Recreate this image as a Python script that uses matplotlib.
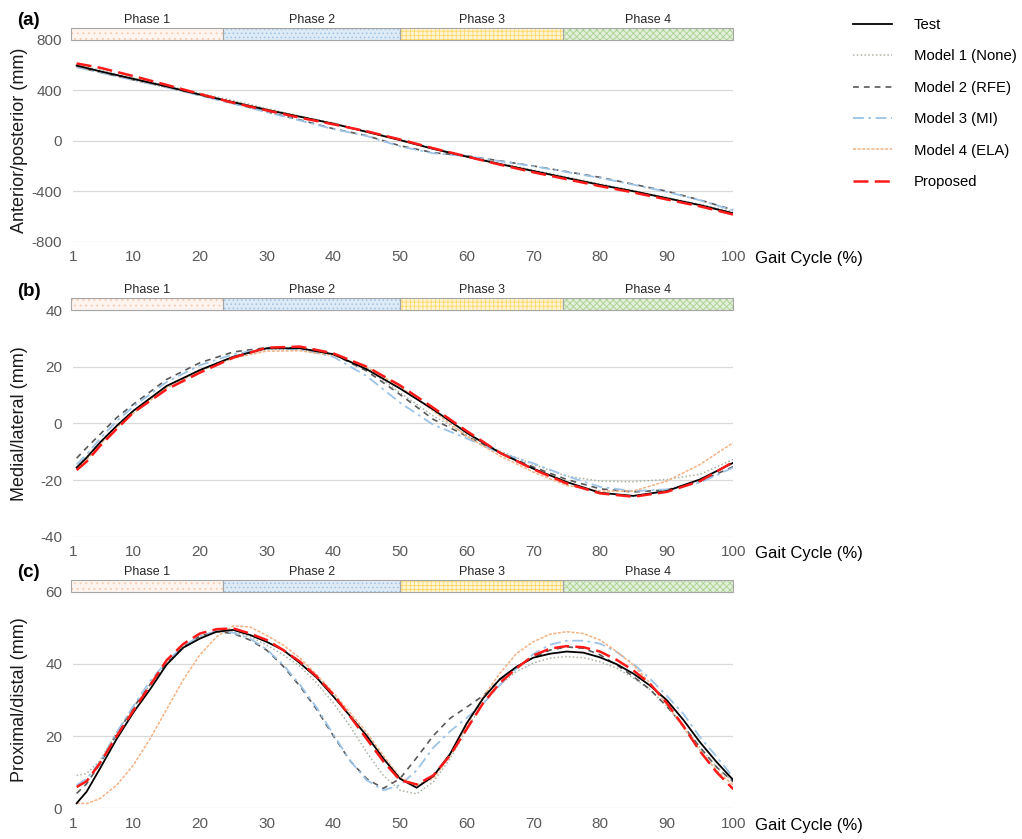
import matplotlib
matplotlib.use("Agg")
import matplotlib.pyplot as plt
from matplotlib.patches import Rectangle
from matplotlib.transforms import blended_transform_factory

plt.rcParams['font.family'] = ['Liberation Sans', 'DejaVu Sans']
plt.rcParams['hatch.linewidth'] = 0.6
plt.rcParams['axes.unicode_minus'] = False

# ---------------- data ----------------
series_names = ["Test", "Model 1 (None)", "Model 2 (RFE)", "Model 3 (MI)", "Model 4 (ELA)", "Proposed"]
phase_names = ["Phase 1", "Phase 2", "Phase 3", "Phase 4"]
phase_edges = [0.7, 23.5, 50, 74.5, 100]
x_ticks = [1, 10, 20, 30, 40, 50, 60, 70, 80, 90, 100]

# (a) anterior/posterior
gait_a = [1.5, 5, 10, 15, 20, 25, 30, 35, 40, 45, 50, 55, 60, 65, 70, 75, 80, 85, 90, 95, 100]
a_test = [595, 550, 490, 430, 365, 305, 245, 190, 135, 70, 5, -65, -126, -185, -240, -295, -350, -400, -455, -510, -575]
a_m1 = [605, 560, 497, 437, 375, 318, 255, 195, 140, 75, 10, -60, -120, -178, -232, -288, -342, -395, -450, -505, -562]
a_m2 = [585, 542, 482, 424, 360, 295, 230, 165, 95, 40, -40, -95, -120, -160, -200, -245, -290, -345, -400, -470, -548]
a_m3 = [582, 540, 480, 422, 358, 293, 226, 160, 92, 38, -45, -100, -122, -162, -202, -248, -295, -348, -405, -472, -552]
a_m4 = [590, 548, 488, 428, 366, 306, 247, 190, 133, 70, 3, -65, -127, -187, -243, -298, -352, -404, -458, -513, -578]
a_prop = [612, 578, 512, 442, 370, 300, 240, 182, 130, 75, 10, -60, -125, -190, -250, -305, -360, -410, -465, -520, -585]

# (b) medial/lateral
gait_b = [1.5, 3, 5, 7.5, 10, 15, 20, 25, 30, 35, 40, 45, 50, 55, 60, 65, 70, 75, 80, 85, 90, 95, 100]
b_test = [-15.6, -12.1, -6.8, -0.9, 4.4, 13.2, 18.8, 23.5, 26.5, 26.5, 24.4, 19.1, 12.3, 4.9, -3.3, -10.4, -16.0, -20.7, -24.5, -25.6, -23.9, -19.8, -13.9]
b_m1 = [-15.5, -12.0, -6.5, -0.8, 4.5, 13.0, 19.0, 23.5, 26.0, 26.3, 24.3, 19.5, 10.8, 2.6, -3.9, -9.8, -14.5, -18.6, -20.4, -20.6, -19.8, -18.0, -12.7]
b_m2 = [-12.3, -8.6, -3.9, 2.0, 6.7, 15.5, 21.4, 25.2, 26.7, 26.7, 24.4, 18.5, 10.2, 1.4, -4.5, -10.4, -15.4, -19.8, -23.1, -24.2, -23.5, -20.4, -15.3]
b_m3 = [-14.5, -11.0, -5.4, 0.8, 5.9, 14.6, 20.5, 24.4, 26.4, 26.1, 23.5, 16.7, 7.3, -0.5, -5.3, -10.4, -14.1, -18.6, -22.4, -23.9, -23.3, -20.9, -15.6]
b_m4 = [-16.0, -13.0, -7.5, -1.5, 3.5, 12.5, 18.5, 23.0, 25.5, 25.6, 24.0, 19.8, 13.0, 4.4, -4.5, -11.5, -17.2, -21.9, -23.9, -23.9, -20.4, -14.5, -6.8]
b_prop = [-16.5, -13.5, -8.0, -2.0, 3.8, 12.0, 17.9, 23.2, 26.7, 27.1, 24.7, 20.0, 13.4, 5.5, -2.7, -10.4, -16.2, -21.2, -24.7, -25.9, -24.2, -20.4, -13.6]

# (c) proximal/distal
gait_c = [1.5, 3, 5, 7.5, 10, 12.5, 15, 17.5, 20, 22.5, 25, 27.5, 30, 32.5, 35, 37.5, 40, 42.5, 45, 47.5,
          50, 52.5, 55, 57.5, 60, 62.5, 65, 67.5, 70, 72.5, 75, 77.5, 80, 82.5, 85, 87.5, 90, 92.5, 95, 97.5, 100]
c_test = [1.4, 4.6, 11.0, 19.2, 26.5, 32.9, 39.8, 44.5, 47.0, 48.9, 49.4, 48.0, 46.1, 43.8, 40.2, 36.2, 31.0, 25.6, 20.1, 13.8,
          8.2, 5.7, 8.9, 15.0, 23.5, 30.5, 35.8, 39.2, 41.7, 42.8, 43.4, 43.1, 41.8, 39.9, 37.3, 34.0, 30.0, 24.5, 18.3, 12.8, 7.8]
c_m1 = [9.1, 9.6, 13.2, 21.0, 27.9, 34.2, 39.7, 44.3, 47.5, 48.9, 48.9, 47.5, 45.2, 42.5, 39.3, 34.7, 29.2, 22.8, 15.5, 9.1,
        5.0, 4.0, 7.3, 13.7, 21.9, 29.2, 34.2, 37.9, 40.2, 41.6, 42.0, 41.7, 40.6, 38.8, 36.1, 32.9, 28.3, 22.8, 16.9, 11.4, 7.3]
c_m2 = [4.1, 6.8, 12.3, 20.5, 27.9, 34.2, 40.2, 44.7, 47.7, 48.9, 48.4, 46.6, 43.8, 39.3, 33.8, 27.4, 20.1, 13.2, 8.2, 5.5,
        8.2, 14.0, 20.1, 24.9, 28.0, 31.2, 35.6, 39.1, 41.8, 43.8, 44.7, 44.3, 42.5, 39.7, 36.5, 32.9, 28.3, 22.8, 16.9, 11.4, 7.3]
c_m3 = [6.4, 8.2, 12.8, 21.0, 28.3, 35.2, 40.6, 44.9, 47.7, 49.1, 48.6, 47.0, 44.0, 39.7, 34.2, 27.9, 20.5, 13.2, 7.8, 5.0,
        6.4, 10.5, 16.8, 21.3, 25.0, 29.0, 34.2, 38.7, 42.7, 45.3, 46.4, 46.4, 45.6, 43.3, 40.0, 35.9, 31.2, 26.2, 19.7, 14.3, 8.5]
c_m4 = [1.4, 1.3, 2.7, 6.4, 11.9, 19.2, 27.4, 35.6, 42.5, 47.5, 50.5, 50.2, 47.9, 45.2, 41.6, 37.0, 32.0, 26.5, 21.0, 14.6,
        8.5, 6.5, 8.2, 14.6, 22.8, 31.0, 37.4, 42.9, 46.1, 48.2, 48.9, 48.4, 46.6, 43.4, 39.7, 34.7, 28.8, 22.4, 16.0, 10.5, 6.4]
c_prop = [5.9, 7.5, 12.5, 20.0, 27.0, 34.0, 41.0, 45.5, 48.4, 49.6, 49.8, 48.4, 46.6, 43.8, 40.6, 36.5, 31.5, 25.5, 19.2, 13.0,
          7.8, 6.6, 9.1, 14.6, 21.9, 29.2, 34.7, 38.8, 42.3, 44.2, 44.9, 44.6, 43.4, 41.1, 38.2, 34.5, 29.2, 22.8, 15.8, 10.0, 5.3]

# ---------------- styles ----------------
styles = [
    dict(color='#000000', lw=1.3, ls='-', zorder=5),
    dict(color='#a9b5a0', lw=1.1, ls=(0, (1, 1.5)), zorder=3),
    dict(color='#595959', lw=1.2, ls=(0, (3.5, 3)), zorder=3),
    dict(color='#9dc3e6', lw=1.3, ls=(0, (6, 2.5, 1.5, 2.5)), zorder=3),
    dict(color='#f4b183', lw=1.1, ls=(0, (2, 1)), zorder=3),
    dict(color='#ff1a1a', lw=1.8, ls=(0, (6, 2.5)), zorder=6),
]
phase_face = ['#fdf4ef', '#deebf7', '#fff5d6', '#e2efda']
phase_hatch_col = ['#f8cbad', '#9dc3e6', '#ffd966', '#a9d18e']
phase_hatch = ['...', '....', '++++', 'xxxxx']

W, H = 1022, 839
fig = plt.figure(figsize=(W / 100, H / 100), dpi=100)

left = 73.3 / W
width = 660 / W
panels = [
    dict(rect=(left, 1 - 241.7 / H, width, 202 / H), x=gait_a,
         ys=[a_test, a_m1, a_m2, a_m3, a_m4, a_prop], ylim=(-800, 800), yticks=[-800, -400, 0, 400, 800],
         ylabel='Anterior/posterior (mm)', tag='(a)'),
    dict(rect=(left, 1 - 536.7 / H, width, 226.7 / H), x=gait_b,
         ys=[b_test, b_m1, b_m2, b_m3, b_m4, b_prop], ylim=(-40, 40), yticks=[-40, -20, 0, 20, 40],
         ylabel='Medial/lateral (mm)', tag='(b)'),
    dict(rect=(left, 1 - 808.3 / H, width, 216.7 / H), x=gait_c,
         ys=[c_test, c_m1, c_m2, c_m3, c_m4, c_prop], ylim=(0, 60), yticks=[0, 20, 40, 60],
         ylabel='Proximal/distal (mm)', tag='(c)'),
]

handles = None
for p in panels:
    ax = fig.add_axes(p['rect'])
    lines = []
    for name, y, st in zip(series_names, p['ys'], styles):
        ln, = ax.plot(p['x'], y, label=name, **st)
        lines.append(ln)
    if handles is None:
        handles = lines
    ax.set_xlim(1, 100)
    ax.set_ylim(*p['ylim'])
    ax.set_xticks(x_ticks)
    ax.set_yticks(p['yticks'])
    ax.tick_params(length=0, labelsize=11, labelcolor='#595959', pad=8)
    ax.tick_params(axis='x', pad=6)
    for s in ax.spines.values():
        s.set_visible(False)
    ax.grid(axis='y', color='#d9d9d9', lw=0.9)
    ax.set_axisbelow(True)

    x0, y0, w, h = p['rect']
    fig.text(20 / W, y0 + h / 2, p['ylabel'], rotation=90, ha='center', va='center',
             fontsize=13, color='#1a1a1a')
    fig.text(17 / W, y0 + h + 19 / H, p['tag'], ha='left', va='center', fontsize=13.5,
             fontweight='bold', color='#000000')
    ax.annotate('Gait Cycle (%)', xy=(1, 0), xycoords='axes fraction', xytext=(22, -17),
                textcoords='offset pixels', ha='left', va='center', fontsize=12, color='#000000')

    trans = blended_transform_factory(ax.transData, ax.transAxes)
    ax_h_px = h * H
    bh = 12 / ax_h_px
    for i in range(4):
        x_a, x_b = phase_edges[i], phase_edges[i + 1]
        ax.add_patch(Rectangle((x_a, 1.0), x_b - x_a, bh, transform=trans, clip_on=False,
                               facecolor=phase_face[i], edgecolor=phase_hatch_col[i],
                               hatch=phase_hatch[i], lw=0, zorder=10))
        ax.add_patch(Rectangle((x_a, 1.0), x_b - x_a, bh, transform=trans, clip_on=False,
                               fill=False, edgecolor='#a6a6a6', lw=0.8, zorder=11))
        ax.text((x_a + x_b) / 2, 1.0 + 20 / ax_h_px, phase_names[i], transform=trans,
                ha='center', va='center', fontsize=9, color='#262626')

fig.legend(handles, series_names, loc='upper left', bbox_to_anchor=(853 / W, 1 - 18 / H),
           frameon=False, fontsize=10.7, handlelength=2.6, handletextpad=1.5,
           labelspacing=1.17, borderpad=0, borderaxespad=0)

fig.savefig('out.png', dpi=100)
